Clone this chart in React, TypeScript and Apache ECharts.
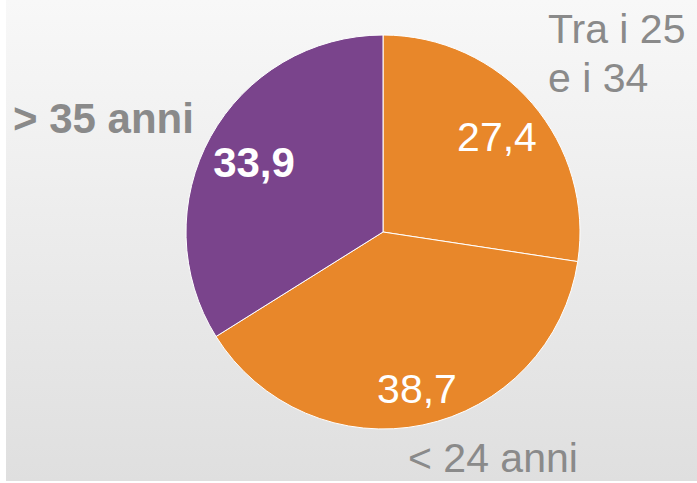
import React, { useEffect, useRef } from "react";
import * as echarts from "echarts";

const categories = ["Tra i 25\ne i 34", "< 24 anni", "> 35 anni"];
const values = [27.4, 38.7, 33.9];
const sliceColors = ["#E8872A", "#E8872A", "#7A448C"];
const boldFlags = [false, false, true];

// label placements (layout only)
const valueLabelPos = [
  { x: 497, y: 137 },
  { x: 417, y: 389 },
  { x: 254, y: 162 },
];
const nameLabelPos = [
  { x: 548, y: 53 },
  { x: 408, y: 458 },
  { x: 13, y: 118 },
];

const FONT = '"Liberation Sans", Arial, sans-serif';

export default function App() {
  const ref = useRef<HTMLDivElement>(null);
  useEffect(() => {
    if (!ref.current) return;
    const chart = echarts.init(ref.current, undefined, { renderer: "svg" });
    const data = values.map((v, i) => ({
      value: v,
      name: categories[i],
      itemStyle: { color: sliceColors[i] },
      label: { fontWeight: boldFlags[i] ? "bold" : "normal", fontSize: boldFlags[i] ? 42 : 41 },
    }));
    chart.setOption({
      animation: false,
      graphic: [
        {
          type: "rect",
          z: -10,
          silent: true,
          shape: { x: 6, y: 0, width: 691, height: 481 },
          style: {
            fill: new echarts.graphic.LinearGradient(0, 0, 0, 1, [
              { offset: 0, color: "#f8f8f8" },
              { offset: 1, color: "#dfdfdf" },
            ]),
          },
        },
      ],
      series: [
        {
          type: "pie",
          center: [383, 232],
          radius: [0, 197],
          startAngle: 90,
          clockwise: true,
          silent: true,
          itemStyle: { borderColor: "#ffffff", borderWidth: 1 },
          label: {
            show: true,
            position: "inside",
            color: "#ffffff",
            fontSize: 41,
            fontFamily: FONT,
            formatter: (p: any) => String(p.value).replace(".", ","),
          },
          labelLine: { show: false },
          labelLayout: (p: any) => ({
            x: valueLabelPos[p.dataIndex].x,
            y: valueLabelPos[p.dataIndex].y,
            align: "center",
            verticalAlign: "middle",
          }),
          data,
        },
        {
          type: "pie",
          center: [383, 232],
          radius: [0, 197],
          startAngle: 90,
          clockwise: true,
          silent: true,
          z: 1,
          itemStyle: { color: "transparent", borderWidth: 0 },
          label: {
            show: true,
            position: "inside",
            color: "#8a8a8a",
            fontSize: 41,
            lineHeight: 49,
            fontFamily: FONT,
            formatter: (p: any) => p.name,
          },
          labelLine: { show: false },
          labelLayout: (p: any) => ({
            x: nameLabelPos[p.dataIndex].x,
            y: nameLabelPos[p.dataIndex].y,
            align: "left",
            verticalAlign: "middle",
          }),
          data: values.map((v, i) => ({
            value: v,
            name: categories[i],
            label: {
              fontWeight: boldFlags[i] ? "bold" : "normal",
              fontSize: boldFlags[i] ? 42 : 41,
              lineHeight: i === 0 ? 49 : 36,
            },
          })),
        },
      ],
    });
    return () => chart.dispose();
  }, []);
  return (
    <div
      ref={ref}
      style={{ position: "fixed", left: 0, top: 0, width: 697, height: 483, background: "#ffffff" }}
    />
  );
}
